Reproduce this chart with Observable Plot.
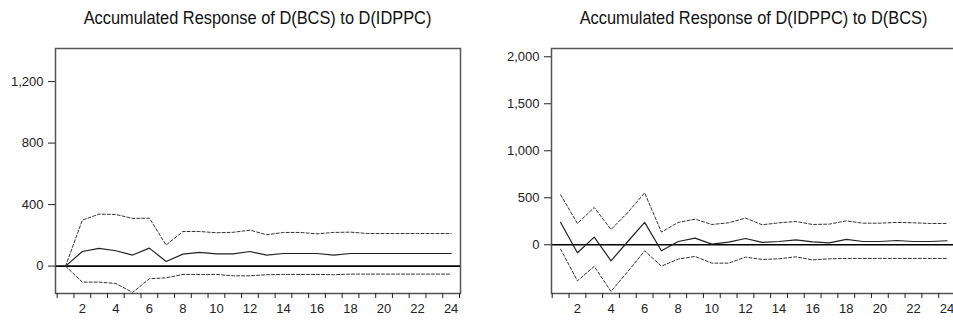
<!DOCTYPE html>
<html>
<head>
<meta charset="utf-8">
<script src="https://cdn.jsdelivr.net/npm/d3@7"></script>
<script src="https://cdn.jsdelivr.net/npm/@observablehq/plot@0.6"></script>
<style>
  html, body { margin: 0; padding: 0; background: #fff; overflow: hidden; }
  body { width: 953px; height: 322px; position: relative; font-family: "Liberation Sans", Arial, sans-serif; }
  .panel { position: absolute; top: 0; }
  .title { position: absolute; top: 7px; font-size: 19px; line-height: 21px; color: #111; white-space: nowrap; text-align: center; transform: scaleX(0.862); }
  .chart { position: absolute; top: 30px; left: 0; }
</style>
</head>
<body>
<div id="p1" class="panel" style="left:0;width:470px;height:322px;">
  <div class="title" style="left:55px;width:405px;">Accumulated Response of D(BCS) to D(IDPPC)</div>
  <div class="chart" id="c1"></div>
</div>
<div id="p2" class="panel" style="left:478px;width:480px;height:322px;">
  <div class="title" style="left:73px;width:405px;">Accumulated Response of D(IDPPC) to D(BCS)</div>
  <div class="chart" id="c2"></div>
</div>
<script>
// Periods
const periods = [1,2,3,4,5,6,7,8,9,10,11,12,13,14,15,16,17,18,19,20,21,22,23,24];
const xTickLabels = [2,4,6,8,10,12,14,16,18,20,22,24];

// Left panel: Accumulated Response of D(BCS) to D(IDPPC)
const bcsResponse = [0,95,115,100,72,117,30,78,89,80,80,95,72,82,82,82,72,82,82,82,82,82,82,82];
const bcsUpper    = [0,299,338,336,310,312,137,225,225,217,220,234,204,219,219,210,219,221,212,212,212,212,212,212];
const bcsLower    = [0,-104,-104,-113,-171,-82,-76,-54,-54,-54,-63,-63,-56,-54,-54,-54,-56,-52,-52,-52,-52,-52,-52,-52];
const leftYTicks  = [0,400,800,1200];

// Right panel: Accumulated Response of D(IDPPC) to D(BCS)
const idppcResponse = [238,-85,82,-170,35,238,-64,35,71,7,28,67,25,35,53,32,21,57,35,35,46,35,35,43];
const idppcUpper    = [532,227,397,163,344,553,135,238,273,216,234,284,213,234,248,216,220,255,230,230,238,234,227,227];
const idppcLower    = [-46,-383,-230,-496,-284,-64,-227,-152,-124,-195,-195,-131,-156,-149,-128,-160,-149,-145,-145,-145,-145,-145,-145,-145];
const rightYTicks   = [0,500,1000,1500,2000];

const boundaries = d3.range(0.5, 25, 1);

function makeChart({width, marginLeft, marginRight, xDomain, yDomain, yTicks, mid, up, lo}) {
  const rows = periods.map((p, i) => ({p, mid: mid[i], up: up[i], lo: lo[i]}));
  return Plot.plot({
    width, height: 292,
    marginLeft, marginRight, marginTop: 18, marginBottom: 29,
    style: {fontFamily: "'Liberation Sans', Arial, sans-serif", fontSize: "13px", color: "#222", background: "transparent"},
    x: {domain: xDomain},
    y: {domain: yDomain},
    marks: [
      Plot.ruleY([0], {stroke: "#000", strokeWidth: 1.6}),
      Plot.line(rows, {x: "p", y: "up", stroke: "#333", strokeWidth: 1, strokeDasharray: "3,2"}),
      Plot.line(rows, {x: "p", y: "lo", stroke: "#333", strokeWidth: 1, strokeDasharray: "3,2"}),
      Plot.line(rows, {x: "p", y: "mid", stroke: "#222", strokeWidth: 1.2}),
      Plot.frame({stroke: "#555", strokeWidth: 1.5}),
      Plot.axisX({ticks: boundaries, tickFormat: () => "", tickSize: 5, stroke: "#222", label: null}),
      Plot.axisX({ticks: xTickLabels, tickSize: 0, tickPadding: 10, tickFormat: d => String(d), label: null}),
      Plot.axisY({ticks: yTicks, tickSize: 7, tickPadding: 5, tickFormat: d3.format(","), stroke: "#222", label: null})
    ]
  });
}

document.getElementById("c1").append(makeChart({
  width: 470, marginLeft: 55, marginRight: 10,
  xDomain: [0.4, 24.56], yDomain: [-178, 1415], yTicks: leftYTicks,
  mid: bcsResponse, up: bcsUpper, lo: bcsLower
}));
document.getElementById("c2").append(makeChart({
  width: 480, marginLeft: 73, marginRight: 1.5,
  xDomain: [0.458, 24.59], yDomain: [-518, 2088], yTicks: rightYTicks,
  mid: idppcResponse, up: idppcUpper, lo: idppcLower
}));
</script>
</body>
</html>
